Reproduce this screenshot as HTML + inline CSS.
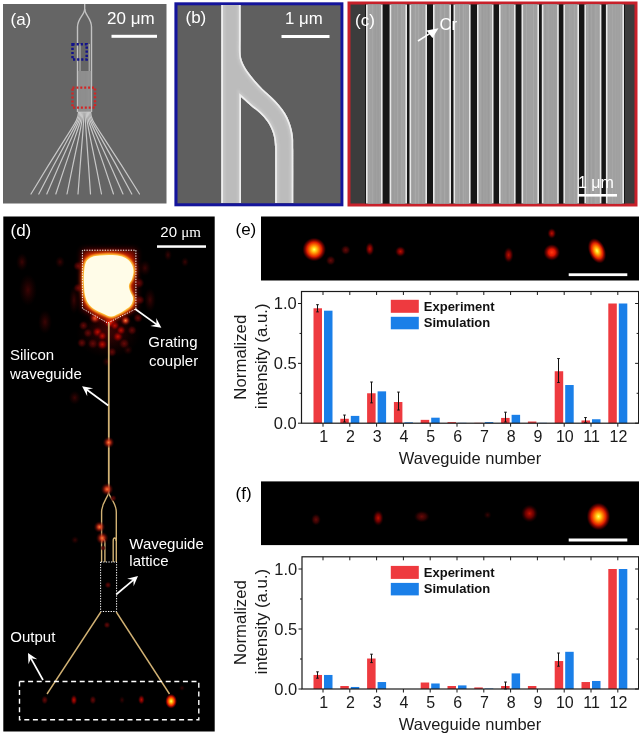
<!DOCTYPE html>
<html><head><meta charset="utf-8"><title>Figure</title>
<style>html,body{margin:0;padding:0;background:#fff;}svg{display:block;}</style>
</head><body>
<svg width="639" height="736" viewBox="0 0 639 736">
<defs>
 <radialGradient id="gHot" cx="50%" cy="50%" r="50%">
  <stop offset="0" stop-color="#ffff70"/>
  <stop offset="0.14" stop-color="#ffe020"/>
  <stop offset="0.38" stop-color="#ff7a00"/>
  <stop offset="0.62" stop-color="#dc1c00"/>
  <stop offset="0.85" stop-color="#780000" stop-opacity="0.6"/>
  <stop offset="1" stop-color="#300000" stop-opacity="0"/>
 </radialGradient>
 <radialGradient id="gRed" cx="50%" cy="50%" r="50%">
  <stop offset="0" stop-color="#ff3a10"/>
  <stop offset="0.4" stop-color="#e01400"/>
  <stop offset="0.75" stop-color="#800000" stop-opacity="0.6"/>
  <stop offset="1" stop-color="#300000" stop-opacity="0"/>
 </radialGradient>
 <radialGradient id="gOr" cx="50%" cy="50%" r="50%">
  <stop offset="0" stop-color="#f88040"/>
  <stop offset="0.3" stop-color="#d83818" stop-opacity="0.9"/>
  <stop offset="0.65" stop-color="#801008" stop-opacity="0.5"/>
  <stop offset="1" stop-color="#300000" stop-opacity="0"/>
 </radialGradient>
 <radialGradient id="gMid" cx="50%" cy="50%" r="50%">
  <stop offset="0" stop-color="#c01000"/>
  <stop offset="0.5" stop-color="#800000" stop-opacity="0.8"/>
  <stop offset="1" stop-color="#300000" stop-opacity="0"/>
 </radialGradient>
 <radialGradient id="gDim" cx="50%" cy="50%" r="50%">
  <stop offset="0" stop-color="#6a0a08"/>
  <stop offset="0.55" stop-color="#4a0404" stop-opacity="0.7"/>
  <stop offset="1" stop-color="#200000" stop-opacity="0"/>
 </radialGradient>
 <radialGradient id="gFaint" cx="50%" cy="50%" r="50%">
  <stop offset="0" stop-color="#3c0404"/>
  <stop offset="1" stop-color="#200000" stop-opacity="0"/>
 </radialGradient>
 <filter id="bl1" x="-50%" y="-50%" width="200%" height="200%"><feGaussianBlur stdDeviation="1"/></filter>
 <filter id="bl2" x="-50%" y="-50%" width="200%" height="200%"><feGaussianBlur stdDeviation="2"/></filter>
 <filter id="bl3" x="-50%" y="-50%" width="200%" height="200%"><feGaussianBlur stdDeviation="3"/></filter>
 <filter id="bl05" x="-50%" y="-50%" width="200%" height="200%"><feGaussianBlur stdDeviation="0.5"/></filter>
 <clipPath id="cpA"><rect x="3" y="4" width="163.5" height="199.5"/></clipPath>
 <clipPath id="cpB"><rect x="177.5" y="5" width="163" height="198"/></clipPath>
 <clipPath id="cpC"><rect x="350.5" y="4.5" width="284" height="199"/></clipPath>
 <clipPath id="cpD"><rect x="3.3" y="216.5" width="211.4" height="515"/></clipPath>
 <clipPath id="cpE"><rect x="261" y="216.5" width="378" height="64"/></clipPath>
 <clipPath id="cpF"><rect x="261" y="481.4" width="378" height="63.7"/></clipPath>
<clipPath id="cpWG"><path d="M221.3 -5 L240.6 -5 L240.6 40 C240.6 42 240.5 49 240.6 52 C240.7 55 240.7 55.93 241.2 58 C241.7 60.07 242.38 61.97 243.6 64.4 C244.82 66.83 246.6 69.88 248.5 72.6 C250.4 75.32 252.65 77.98 255 80.7 C257.35 83.42 259.85 86.18 262.6 88.9 C265.35 91.62 268.72 94.28 271.5 97 C274.28 99.72 277.02 102.48 279.3 105.2 C281.58 107.92 283.55 110.58 285.2 113.3 C286.85 116.02 288.12 118.78 289.2 121.5 C290.28 124.22 291.07 126.88 291.7 129.6 C292.33 132.32 292.73 134.4 293 137.8 C293.27 141.2 293.25 137.13 293.3 150 C293.35 162.87 293.3 204.17 293.3 215 L275.2 215 C275.2 204.17 275.25 161.52 275.2 150 C275.15 138.48 275.08 147.93 274.9 145.9 C274.72 143.87 274.65 140.52 274.1 137.8 C273.55 135.08 272.75 132.32 271.6 129.6 C270.45 126.88 269.15 124.22 267.2 121.5 C265.25 118.78 262.75 116.02 259.9 113.3 C257.05 110.58 253.25 107.92 250.1 105.2 C246.95 102.48 242.52 98.37 241 97 L241 215 L221.3 215 Z"/></clipPath></defs>
<rect width="639" height="736" fill="#fff"/><rect x="3" y="4" width="163.5" height="199.5" fill="#656565"/>
<g clip-path="url(#cpA)" fill="none" stroke="#c2c2c2" stroke-width="1.4">
<path d="M84.7 0 L84.7 9 C84.7 15 77.5 18 77.5 27 L77.5 112"/>
<path d="M84.7 9 C84.7 15 91.5 18 91.5 27 L91.5 112"/>
<path d="M80 44 L80 71 M89.2 44 L89.2 71" stroke="#b4b4b4" stroke-width="1.1"/>
</g>
<rect x="78" y="71" width="13" height="42" fill="#858585"/>
<line x1="78.6" y1="71" x2="78.6" y2="113" stroke="#9c9c9c" stroke-width="0.5"/>
<line x1="79.7" y1="71" x2="79.7" y2="113" stroke="#9c9c9c" stroke-width="0.5"/>
<line x1="80.8" y1="71" x2="80.8" y2="113" stroke="#9c9c9c" stroke-width="0.5"/>
<line x1="81.9" y1="71" x2="81.9" y2="113" stroke="#9c9c9c" stroke-width="0.5"/>
<line x1="83" y1="71" x2="83" y2="113" stroke="#9c9c9c" stroke-width="0.5"/>
<line x1="84.1" y1="71" x2="84.1" y2="113" stroke="#9c9c9c" stroke-width="0.5"/>
<line x1="85.2" y1="71" x2="85.2" y2="113" stroke="#9c9c9c" stroke-width="0.5"/>
<line x1="86.3" y1="71" x2="86.3" y2="113" stroke="#9c9c9c" stroke-width="0.5"/>
<line x1="87.4" y1="71" x2="87.4" y2="113" stroke="#9c9c9c" stroke-width="0.5"/>
<line x1="88.5" y1="71" x2="88.5" y2="113" stroke="#9c9c9c" stroke-width="0.5"/>
<line x1="89.6" y1="71" x2="89.6" y2="113" stroke="#9c9c9c" stroke-width="0.5"/>
<line x1="90.7" y1="71" x2="90.7" y2="113" stroke="#9c9c9c" stroke-width="0.5"/>
<g fill="none" stroke="#c8c8c8" stroke-width="1.2" stroke-linecap="round">
<path d="M78.5 112 C78.5 122 72.8 124 31 194"/>
<path d="M79.6 112 C79.6 122 74.7 124 38.8 194"/>
<path d="M80.7 112 C80.7 122 76.63 124 46.8 194"/>
<path d="M81.8 112 C81.8 122 78.68 124 55.8 194"/>
<path d="M82.9 112 C82.9 122 80.99 124 67 194"/>
<path d="M84 112 C84 122 83.28 124 78 194"/>
<path d="M85.1 112 C85.1 122 85.75 124 90.5 194"/>
<path d="M86.2 112 C86.2 122 88.04 124 101.5 194"/>
<path d="M87.3 112 C87.3 122 90.44 124 113.5 194"/>
<path d="M88.4 112 C88.4 122 92.55 124 123 194"/>
<path d="M89.5 112 C89.5 122 94.58 124 131.8 194"/>
<path d="M90.6 112 C90.6 122 96.47 124 139.5 194"/>
</g>
<rect x="72.5" y="44.3" width="14.2" height="15.3" fill="none" stroke="#12128c" stroke-width="2.5" stroke-dasharray="2.2 1.9"/>
<rect x="72.5" y="87.6" width="22.5" height="20" fill="none" stroke="#d42424" stroke-width="2.4" stroke-dasharray="2 1.9"/>
<text x="10.5" y="24.5" font-family='"Liberation Sans", Arial, sans-serif' font-size="17" fill="#fff">(a)</text>
<text x="107" y="24.2" font-family='"Liberation Sans", Arial, sans-serif' font-size="17" fill="#fff">20 μm</text>
<rect x="111.5" y="34.8" width="45.5" height="3" fill="#fff"/>
<rect x="174.4" y="2.3" width="169" height="204" fill="#14149c"/>
<rect x="177.5" y="5.3" width="163" height="198" fill="#5f5f5f"/>
<g clip-path="url(#cpB)">
<g clip-path="url(#cpWG)"><path d="M221.3 -5 L240.6 -5 L240.6 40 C240.6 42 240.5 49 240.6 52 C240.7 55 240.7 55.93 241.2 58 C241.7 60.07 242.38 61.97 243.6 64.4 C244.82 66.83 246.6 69.88 248.5 72.6 C250.4 75.32 252.65 77.98 255 80.7 C257.35 83.42 259.85 86.18 262.6 88.9 C265.35 91.62 268.72 94.28 271.5 97 C274.28 99.72 277.02 102.48 279.3 105.2 C281.58 107.92 283.55 110.58 285.2 113.3 C286.85 116.02 288.12 118.78 289.2 121.5 C290.28 124.22 291.07 126.88 291.7 129.6 C292.33 132.32 292.73 134.4 293 137.8 C293.27 141.2 293.25 137.13 293.3 150 C293.35 162.87 293.3 204.17 293.3 215 L275.2 215 C275.2 204.17 275.25 161.52 275.2 150 C275.15 138.48 275.08 147.93 274.9 145.9 C274.72 143.87 274.65 140.52 274.1 137.8 C273.55 135.08 272.75 132.32 271.6 129.6 C270.45 126.88 269.15 124.22 267.2 121.5 C265.25 118.78 262.75 116.02 259.9 113.3 C257.05 110.58 253.25 107.92 250.1 105.2 C246.95 102.48 242.52 98.37 241 97 L241 215 L221.3 215 Z" fill="#bcbcbc"/>
<path d="M221.3 -5 L240.6 -5 L240.6 40 C240.6 42 240.5 49 240.6 52 C240.7 55 240.7 55.93 241.2 58 C241.7 60.07 242.38 61.97 243.6 64.4 C244.82 66.83 246.6 69.88 248.5 72.6 C250.4 75.32 252.65 77.98 255 80.7 C257.35 83.42 259.85 86.18 262.6 88.9 C265.35 91.62 268.72 94.28 271.5 97 C274.28 99.72 277.02 102.48 279.3 105.2 C281.58 107.92 283.55 110.58 285.2 113.3 C286.85 116.02 288.12 118.78 289.2 121.5 C290.28 124.22 291.07 126.88 291.7 129.6 C292.33 132.32 292.73 134.4 293 137.8 C293.27 141.2 293.25 137.13 293.3 150 C293.35 162.87 293.3 204.17 293.3 215 L275.2 215 C275.2 204.17 275.25 161.52 275.2 150 C275.15 138.48 275.08 147.93 274.9 145.9 C274.72 143.87 274.65 140.52 274.1 137.8 C273.55 135.08 272.75 132.32 271.6 129.6 C270.45 126.88 269.15 124.22 267.2 121.5 C265.25 118.78 262.75 116.02 259.9 113.3 C257.05 110.58 253.25 107.92 250.1 105.2 C246.95 102.48 242.52 98.37 241 97 L241 215 L221.3 215 Z" fill="none" stroke="#c8c8c8" stroke-width="7" filter="url(#bl1)"/>
<path d="M221.3 -5 L240.6 -5 L240.6 40 C240.6 42 240.5 49 240.6 52 C240.7 55 240.7 55.93 241.2 58 C241.7 60.07 242.38 61.97 243.6 64.4 C244.82 66.83 246.6 69.88 248.5 72.6 C250.4 75.32 252.65 77.98 255 80.7 C257.35 83.42 259.85 86.18 262.6 88.9 C265.35 91.62 268.72 94.28 271.5 97 C274.28 99.72 277.02 102.48 279.3 105.2 C281.58 107.92 283.55 110.58 285.2 113.3 C286.85 116.02 288.12 118.78 289.2 121.5 C290.28 124.22 291.07 126.88 291.7 129.6 C292.33 132.32 292.73 134.4 293 137.8 C293.27 141.2 293.25 137.13 293.3 150 C293.35 162.87 293.3 204.17 293.3 215 L275.2 215 C275.2 204.17 275.25 161.52 275.2 150 C275.15 138.48 275.08 147.93 274.9 145.9 C274.72 143.87 274.65 140.52 274.1 137.8 C273.55 135.08 272.75 132.32 271.6 129.6 C270.45 126.88 269.15 124.22 267.2 121.5 C265.25 118.78 262.75 116.02 259.9 113.3 C257.05 110.58 253.25 107.92 250.1 105.2 C246.95 102.48 242.52 98.37 241 97 L241 215 L221.3 215 Z" fill="none" stroke="#eeeeee" stroke-width="3.4" filter="url(#bl05)"/></g>
</g>
<text x="185.5" y="23" font-family='"Liberation Sans", Arial, sans-serif' font-size="17" fill="#fff">(b)</text>
<text x="285" y="24" font-family='"Liberation Sans", Arial, sans-serif' font-size="16.8" fill="#fff">1 μm</text>
<rect x="281.5" y="35" width="48" height="3" fill="#fff"/>
<rect x="347.5" y="1.5" width="290" height="205" fill="#c8202a"/>
<rect x="350.5" y="4.5" width="284" height="199" fill="#3c3c3c"/>
<rect x="365" y="4.5" width="260" height="199" fill="#161616"/>
<rect x="366" y="4.5" width="16.6" height="199" fill="#e8e8e8"/>
<rect x="367.6" y="4.5" width="13.4" height="199" fill="#a0a0a0"/>
<rect x="369" y="4.5" width="0.8" height="199" fill="#a8a8a8" opacity="0.6"/>
<rect x="372.11" y="4.5" width="0.8" height="199" fill="#aeaeae" opacity="0.6"/>
<rect x="374.72" y="4.5" width="0.8" height="199" fill="#949494" opacity="0.6"/>
<rect x="377.61" y="4.5" width="0.8" height="199" fill="#949494" opacity="0.6"/>
<rect x="389.6" y="4.5" width="17.4" height="199" fill="#e8e8e8"/>
<rect x="391.2" y="4.5" width="14.2" height="199" fill="#a0a0a0"/>
<rect x="392.6" y="4.5" width="0.8" height="199" fill="#949494" opacity="0.6"/>
<rect x="395.65" y="4.5" width="0.8" height="199" fill="#989898" opacity="0.6"/>
<rect x="397.21" y="4.5" width="0.8" height="199" fill="#aeaeae" opacity="0.6"/>
<rect x="399.42" y="4.5" width="0.8" height="199" fill="#989898" opacity="0.6"/>
<rect x="401.08" y="4.5" width="0.8" height="199" fill="#aeaeae" opacity="0.6"/>
<rect x="402.68" y="4.5" width="0.8" height="199" fill="#b2b2b2" opacity="0.6"/>
<rect x="409.5" y="4.5" width="17.5" height="199" fill="#e8e8e8"/>
<rect x="411.1" y="4.5" width="14.3" height="199" fill="#a0a0a0"/>
<rect x="412.5" y="4.5" width="0.8" height="199" fill="#989898" opacity="0.6"/>
<rect x="415.07" y="4.5" width="0.8" height="199" fill="#b2b2b2" opacity="0.6"/>
<rect x="418.18" y="4.5" width="0.8" height="199" fill="#b2b2b2" opacity="0.6"/>
<rect x="420.68" y="4.5" width="0.8" height="199" fill="#949494" opacity="0.6"/>
<rect x="423.84" y="4.5" width="0.8" height="199" fill="#949494" opacity="0.6"/>
<rect x="433" y="4.5" width="18" height="199" fill="#e8e8e8"/>
<rect x="434.6" y="4.5" width="14.8" height="199" fill="#a0a0a0"/>
<rect x="436" y="4.5" width="0.8" height="199" fill="#989898" opacity="0.6"/>
<rect x="437.99" y="4.5" width="0.8" height="199" fill="#989898" opacity="0.6"/>
<rect x="440.41" y="4.5" width="0.8" height="199" fill="#b2b2b2" opacity="0.6"/>
<rect x="442.44" y="4.5" width="0.8" height="199" fill="#9c9c9c" opacity="0.6"/>
<rect x="444.24" y="4.5" width="0.8" height="199" fill="#b2b2b2" opacity="0.6"/>
<rect x="446.71" y="4.5" width="0.8" height="199" fill="#989898" opacity="0.6"/>
<rect x="453.5" y="4.5" width="17.1" height="199" fill="#e8e8e8"/>
<rect x="455.1" y="4.5" width="13.9" height="199" fill="#a0a0a0"/>
<rect x="456.5" y="4.5" width="0.8" height="199" fill="#b2b2b2" opacity="0.6"/>
<rect x="459.21" y="4.5" width="0.8" height="199" fill="#b2b2b2" opacity="0.6"/>
<rect x="460.81" y="4.5" width="0.8" height="199" fill="#989898" opacity="0.6"/>
<rect x="463.16" y="4.5" width="0.8" height="199" fill="#b2b2b2" opacity="0.6"/>
<rect x="465.38" y="4.5" width="0.8" height="199" fill="#a8a8a8" opacity="0.6"/>
<rect x="477" y="4.5" width="16.5" height="199" fill="#e8e8e8"/>
<rect x="478.6" y="4.5" width="13.3" height="199" fill="#a0a0a0"/>
<rect x="480" y="4.5" width="0.8" height="199" fill="#aeaeae" opacity="0.6"/>
<rect x="482.11" y="4.5" width="0.8" height="199" fill="#989898" opacity="0.6"/>
<rect x="484.97" y="4.5" width="0.8" height="199" fill="#9c9c9c" opacity="0.6"/>
<rect x="487.79" y="4.5" width="0.8" height="199" fill="#949494" opacity="0.6"/>
<rect x="490.27" y="4.5" width="0.8" height="199" fill="#b2b2b2" opacity="0.6"/>
<rect x="499" y="4.5" width="16.6" height="199" fill="#e8e8e8"/>
<rect x="500.6" y="4.5" width="13.4" height="199" fill="#a0a0a0"/>
<rect x="502" y="4.5" width="0.8" height="199" fill="#a8a8a8" opacity="0.6"/>
<rect x="504.74" y="4.5" width="0.8" height="199" fill="#a8a8a8" opacity="0.6"/>
<rect x="507.28" y="4.5" width="0.8" height="199" fill="#949494" opacity="0.6"/>
<rect x="508.98" y="4.5" width="0.8" height="199" fill="#aeaeae" opacity="0.6"/>
<rect x="510.76" y="4.5" width="0.8" height="199" fill="#a8a8a8" opacity="0.6"/>
<rect x="512.51" y="4.5" width="0.8" height="199" fill="#aeaeae" opacity="0.6"/>
<rect x="521.5" y="4.5" width="17.5" height="199" fill="#e8e8e8"/>
<rect x="523.1" y="4.5" width="14.3" height="199" fill="#a0a0a0"/>
<rect x="524.5" y="4.5" width="0.8" height="199" fill="#9c9c9c" opacity="0.6"/>
<rect x="526.13" y="4.5" width="0.8" height="199" fill="#b2b2b2" opacity="0.6"/>
<rect x="528.61" y="4.5" width="0.8" height="199" fill="#a8a8a8" opacity="0.6"/>
<rect x="530.68" y="4.5" width="0.8" height="199" fill="#a8a8a8" opacity="0.6"/>
<rect x="533.19" y="4.5" width="0.8" height="199" fill="#b2b2b2" opacity="0.6"/>
<rect x="541.8" y="4.5" width="17" height="199" fill="#e8e8e8"/>
<rect x="543.4" y="4.5" width="13.8" height="199" fill="#a0a0a0"/>
<rect x="544.8" y="4.5" width="0.8" height="199" fill="#949494" opacity="0.6"/>
<rect x="547.73" y="4.5" width="0.8" height="199" fill="#a8a8a8" opacity="0.6"/>
<rect x="550.03" y="4.5" width="0.8" height="199" fill="#9c9c9c" opacity="0.6"/>
<rect x="551.64" y="4.5" width="0.8" height="199" fill="#9c9c9c" opacity="0.6"/>
<rect x="554.34" y="4.5" width="0.8" height="199" fill="#9c9c9c" opacity="0.6"/>
<rect x="563.4" y="4.5" width="15.6" height="199" fill="#e8e8e8"/>
<rect x="565" y="4.5" width="12.4" height="199" fill="#a0a0a0"/>
<rect x="566.4" y="4.5" width="0.8" height="199" fill="#9c9c9c" opacity="0.6"/>
<rect x="569.3" y="4.5" width="0.8" height="199" fill="#a8a8a8" opacity="0.6"/>
<rect x="572.02" y="4.5" width="0.8" height="199" fill="#9c9c9c" opacity="0.6"/>
<rect x="574.11" y="4.5" width="0.8" height="199" fill="#aeaeae" opacity="0.6"/>
<rect x="584.4" y="4.5" width="17" height="199" fill="#e8e8e8"/>
<rect x="586" y="4.5" width="13.8" height="199" fill="#a0a0a0"/>
<rect x="587.4" y="4.5" width="0.8" height="199" fill="#b2b2b2" opacity="0.6"/>
<rect x="589.1" y="4.5" width="0.8" height="199" fill="#949494" opacity="0.6"/>
<rect x="590.97" y="4.5" width="0.8" height="199" fill="#a8a8a8" opacity="0.6"/>
<rect x="592.69" y="4.5" width="0.8" height="199" fill="#989898" opacity="0.6"/>
<rect x="594.87" y="4.5" width="0.8" height="199" fill="#aeaeae" opacity="0.6"/>
<rect x="596.5" y="4.5" width="0.8" height="199" fill="#aeaeae" opacity="0.6"/>
<rect x="605.9" y="4.5" width="18.1" height="199" fill="#e8e8e8"/>
<rect x="607.5" y="4.5" width="14.9" height="199" fill="#a0a0a0"/>
<rect x="608.9" y="4.5" width="0.8" height="199" fill="#a8a8a8" opacity="0.6"/>
<rect x="611.9" y="4.5" width="0.8" height="199" fill="#aeaeae" opacity="0.6"/>
<rect x="614.87" y="4.5" width="0.8" height="199" fill="#a8a8a8" opacity="0.6"/>
<rect x="617.57" y="4.5" width="0.8" height="199" fill="#a8a8a8" opacity="0.6"/>
<rect x="620.23" y="4.5" width="0.8" height="199" fill="#aeaeae" opacity="0.6"/>
<text x="355" y="25.6" font-family='"Liberation Sans", Arial, sans-serif' font-size="17" fill="#fff">(c)</text>
<text x="439.5" y="29.5" font-family='"Liberation Sans", Arial, sans-serif' font-size="16.8" fill="#fff">Cr</text>
<line x1="418" y1="41" x2="430" y2="33.3" stroke="#fff" stroke-width="1.6"/>
<polygon points="438.5,28.2 426.5,30.5 432.5,38" fill="#fff"/>
<text x="578" y="188" font-family='"Liberation Sans", Arial, sans-serif' font-size="16" fill="#fff">1 μm</text>
<rect x="578" y="194" width="39" height="2.6" fill="#fff"/>
<rect x="3.3" y="216.5" width="211.4" height="515" fill="#000"/>
<g clip-path="url(#cpD)">
<ellipse cx="28" cy="290" rx="9" ry="16" fill="url(#gFaint)"/>
<ellipse cx="45" cy="322" rx="7" ry="12" fill="url(#gFaint)"/>
<ellipse cx="22" cy="262" rx="6" ry="9" fill="url(#gFaint)"/>
<ellipse cx="74.7" cy="397.7" rx="6" ry="7" fill="url(#gFaint)"/>
<ellipse cx="150" cy="300" rx="6" ry="12" fill="url(#gFaint)"/>
<ellipse cx="145" cy="268" rx="6" ry="8" fill="url(#gFaint)"/>
<ellipse cx="168" cy="255" rx="4" ry="6" fill="url(#gFaint)"/>
<ellipse cx="75" cy="540" rx="4" ry="4" fill="url(#gFaint)"/>
<ellipse cx="74" cy="300" rx="5" ry="14" fill="url(#gFaint)"/>
<ellipse cx="60" cy="262" rx="5" ry="6" fill="url(#gFaint)"/>
<ellipse cx="185" cy="262" rx="4" ry="5" fill="url(#gFaint)"/>
<ellipse cx="108" cy="334" rx="32" ry="24" fill="url(#gFaint)"/>
<ellipse cx="108" cy="330" rx="22" ry="14" fill="url(#gFaint)"/>
<ellipse cx="95" cy="318" rx="6.25" ry="6.25" fill="url(#gOr)"/>
<ellipse cx="125.5" cy="320.5" rx="5.62" ry="5.62" fill="url(#gOr)"/>
<ellipse cx="110" cy="322" rx="6.25" ry="6.25" fill="url(#gRed)"/>
<ellipse cx="97.6" cy="332" rx="5.62" ry="5.62" fill="url(#gMid)"/>
<ellipse cx="102.3" cy="336" rx="5" ry="5" fill="url(#gMid)"/>
<ellipse cx="92.9" cy="343.6" rx="5.62" ry="5.62" fill="url(#gDim)"/>
<ellipse cx="102.3" cy="344.4" rx="5.62" ry="5.62" fill="url(#gMid)"/>
<ellipse cx="117.9" cy="336.6" rx="5.62" ry="5.62" fill="url(#gMid)"/>
<ellipse cx="121" cy="330.3" rx="5" ry="5" fill="url(#gMid)"/>
<ellipse cx="114.8" cy="325.6" rx="5" ry="5" fill="url(#gMid)"/>
<ellipse cx="124.2" cy="343.6" rx="5.62" ry="5.62" fill="url(#gDim)"/>
<ellipse cx="83.5" cy="325.6" rx="5" ry="5" fill="url(#gDim)"/>
<ellipse cx="81.9" cy="342.9" rx="5" ry="5" fill="url(#gDim)"/>
<ellipse cx="132" cy="330.3" rx="5" ry="5" fill="url(#gDim)"/>
<ellipse cx="107" cy="361.6" rx="5" ry="5" fill="url(#gFaint)"/>
<ellipse cx="88" cy="333" rx="5" ry="5" fill="url(#gDim)"/>
<ellipse cx="128" cy="350" rx="5" ry="5" fill="url(#gFaint)"/>
<ellipse cx="112" cy="352" rx="5" ry="5" fill="url(#gDim)"/>
<ellipse cx="140" cy="300" rx="5" ry="5" fill="url(#gDim)"/>
<ellipse cx="139" cy="283" rx="5.62" ry="5.62" fill="url(#gDim)"/>
<ellipse cx="78" cy="288" rx="5" ry="5" fill="url(#gDim)"/>
<ellipse cx="78" cy="266" rx="5" ry="5" fill="url(#gDim)"/>
<ellipse cx="138" cy="318" rx="5" ry="5" fill="url(#gDim)"/>
<path d="M82.4 308.5 L82.4 250.2 L135.9 250.2 L135.9 308.9 L107.7 323 Z" fill="#a81000" opacity="0.9" filter="url(#bl3)"/>
<path d="M86 262 C87.33 259.33 89.67 258.08 92 257 C94.33 255.92 97 255.83 100 255.5 C103 255.17 106.67 254.92 110 255 C113.33 255.08 117.17 255.33 120 256 C122.83 256.67 125.08 257.67 127 259 C128.92 260.33 130.42 262 131.5 264 C132.58 266 133.42 268.5 133.5 271 C133.58 273.5 132.75 276.67 132 279 C131.25 281.33 129.33 283 129 285 C128.67 287 129.33 288.83 130 291 C130.67 293.17 132.83 295.67 133 298 C133.17 300.33 132.33 303 131 305 C129.67 307 127.17 308.5 125 310 C122.83 311.5 120.33 312.92 118 314 C115.67 315.08 113.5 316.58 111 316.5 C108.5 316.42 105.83 314.75 103 313.5 C100.17 312.25 96.5 310.75 94 309 C91.5 307.25 89.5 305.33 88 303 C86.5 300.67 85.67 298 85 295 C84.33 292 84.17 288.67 84 285 C83.83 281.33 83.67 276.83 84 273 C84.33 269.17 84.67 264.67 86 262 Z" fill="#f04000" transform="translate(108.5 286) scale(1.1) translate(-108.5 -286)" filter="url(#bl2)"/>
<path d="M86 262 C87.33 259.33 89.67 258.08 92 257 C94.33 255.92 97 255.83 100 255.5 C103 255.17 106.67 254.92 110 255 C113.33 255.08 117.17 255.33 120 256 C122.83 256.67 125.08 257.67 127 259 C128.92 260.33 130.42 262 131.5 264 C132.58 266 133.42 268.5 133.5 271 C133.58 273.5 132.75 276.67 132 279 C131.25 281.33 129.33 283 129 285 C128.67 287 129.33 288.83 130 291 C130.67 293.17 132.83 295.67 133 298 C133.17 300.33 132.33 303 131 305 C129.67 307 127.17 308.5 125 310 C122.83 311.5 120.33 312.92 118 314 C115.67 315.08 113.5 316.58 111 316.5 C108.5 316.42 105.83 314.75 103 313.5 C100.17 312.25 96.5 310.75 94 309 C91.5 307.25 89.5 305.33 88 303 C86.5 300.67 85.67 298 85 295 C84.33 292 84.17 288.67 84 285 C83.83 281.33 83.67 276.83 84 273 C84.33 269.17 84.67 264.67 86 262 Z" fill="#ffa020" transform="translate(108.5 286) scale(1.05) translate(-108.5 -286)" filter="url(#bl1)"/>
<path d="M86 262 C87.33 259.33 89.67 258.08 92 257 C94.33 255.92 97 255.83 100 255.5 C103 255.17 106.67 254.92 110 255 C113.33 255.08 117.17 255.33 120 256 C122.83 256.67 125.08 257.67 127 259 C128.92 260.33 130.42 262 131.5 264 C132.58 266 133.42 268.5 133.5 271 C133.58 273.5 132.75 276.67 132 279 C131.25 281.33 129.33 283 129 285 C128.67 287 129.33 288.83 130 291 C130.67 293.17 132.83 295.67 133 298 C133.17 300.33 132.33 303 131 305 C129.67 307 127.17 308.5 125 310 C122.83 311.5 120.33 312.92 118 314 C115.67 315.08 113.5 316.58 111 316.5 C108.5 316.42 105.83 314.75 103 313.5 C100.17 312.25 96.5 310.75 94 309 C91.5 307.25 89.5 305.33 88 303 C86.5 300.67 85.67 298 85 295 C84.33 292 84.17 288.67 84 285 C83.83 281.33 83.67 276.83 84 273 C84.33 269.17 84.67 264.67 86 262 Z" fill="#ffe050" transform="translate(108.5 286) scale(1.02) translate(-108.5 -286)" filter="url(#bl1)"/>
<path d="M86 262 C87.33 259.33 89.67 258.08 92 257 C94.33 255.92 97 255.83 100 255.5 C103 255.17 106.67 254.92 110 255 C113.33 255.08 117.17 255.33 120 256 C122.83 256.67 125.08 257.67 127 259 C128.92 260.33 130.42 262 131.5 264 C132.58 266 133.42 268.5 133.5 271 C133.58 273.5 132.75 276.67 132 279 C131.25 281.33 129.33 283 129 285 C128.67 287 129.33 288.83 130 291 C130.67 293.17 132.83 295.67 133 298 C133.17 300.33 132.33 303 131 305 C129.67 307 127.17 308.5 125 310 C122.83 311.5 120.33 312.92 118 314 C115.67 315.08 113.5 316.58 111 316.5 C108.5 316.42 105.83 314.75 103 313.5 C100.17 312.25 96.5 310.75 94 309 C91.5 307.25 89.5 305.33 88 303 C86.5 300.67 85.67 298 85 295 C84.33 292 84.17 288.67 84 285 C83.83 281.33 83.67 276.83 84 273 C84.33 269.17 84.67 264.67 86 262 Z" fill="#fffce8" filter="url(#bl05)"/>
<path d="M82.4 308.5 L82.4 250.2 L135.9 250.2 L135.9 308.9 L107.7 323 Z" fill="none" stroke="#fff" stroke-width="1" stroke-dasharray="1.3 1.3"/>
<line x1="108.8" y1="323" x2="108.8" y2="492" stroke="#d2b274" stroke-width="1.8"/>
<g fill="none" stroke="#d2b274" stroke-width="1.4">
<path d="M108.6 492 C108.6 497 101.6 502 101.6 512 L101.6 562"/>
<path d="M108.6 492 C108.6 497 116.3 502 116.3 512 L116.3 562"/>
<path d="M104.9 562 L104.9 542.5 C104.9 540.5 104 539.5 103.2 539.5 C102.4 539.5 101.6 540.5 101.6 542.5"/>
<path d="M113.2 562 L113.2 541 C113.2 539 114 538 114.7 538 C115.5 538 116.2 539 116.2 541"/>
<path d="M100.8 612 L47 694"/>
<path d="M116.3 612 L169.5 694"/>
</g>
<rect x="100.6" y="562" width="16" height="49.5" fill="none" stroke="#fff" stroke-width="1" stroke-dasharray="1.3 1.3"/>
<ellipse cx="107.1" cy="489.2" rx="6.5" ry="6.5" fill="url(#gOr)"/>
<ellipse cx="99.5" cy="527" rx="6" ry="6" fill="url(#gOr)"/>
<ellipse cx="102.2" cy="538.1" rx="6.5" ry="6.5" fill="url(#gOr)"/>
<ellipse cx="108.6" cy="442.5" rx="6" ry="6" fill="url(#gOr)"/>
<ellipse cx="113.2" cy="498.3" rx="3.5" ry="3.5" fill="url(#gDim)"/>
<ellipse cx="108" cy="585" rx="3.5" ry="3.5" fill="url(#gDim)"/>
<ellipse cx="107" cy="625" rx="3.5" ry="3.5" fill="url(#gDim)"/>
<ellipse cx="103" cy="548" rx="3" ry="3" fill="url(#gDim)"/>
<ellipse cx="44.7" cy="700" rx="3.5" ry="4.5" fill="url(#gDim)"/>
<ellipse cx="73.9" cy="700" rx="3.5" ry="5.5" fill="url(#gMid)"/>
<ellipse cx="92.9" cy="700" rx="3.5" ry="4.5" fill="url(#gDim)"/>
<ellipse cx="122" cy="700" rx="3" ry="4" fill="url(#gFaint)"/>
<ellipse cx="141.4" cy="699.7" rx="3.5" ry="5" fill="url(#gMid)"/>
<ellipse cx="171.1" cy="701.2" rx="6" ry="7.5" fill="url(#gHot)"/>
<ellipse cx="182" cy="688" rx="3" ry="3" fill="url(#gFaint)"/>
<rect x="19.5" y="681.5" width="179.3" height="38.2" fill="none" stroke="#fff" stroke-width="1.4" stroke-dasharray="5 3.6"/>
</g>
<text x="10.5" y="236" font-family='"Liberation Sans", Arial, sans-serif' font-size="17" fill="#fff">(d)</text>
<text x="160.3" y="236.6" font-family='"Liberation Sans", Arial, sans-serif' font-size="15" fill="#fff">20 <tspan font-family='"Liberation Serif", "Times New Roman", serif'>μm</tspan></text>
<rect x="157" y="245.3" width="49" height="2.5" fill="#fff"/>
<text x="148.3" y="347.3" font-family='"Liberation Sans", Arial, sans-serif' font-size="15" fill="#fff">Grating</text>
<text x="149" y="365.8" font-family='"Liberation Sans", Arial, sans-serif' font-size="15" fill="#fff">coupler</text>
<text x="10" y="359.5" font-family='"Liberation Sans", Arial, sans-serif' font-size="15" fill="#fff">Silicon</text>
<text x="10" y="378.5" font-family='"Liberation Sans", Arial, sans-serif' font-size="15" fill="#fff">waveguide</text>
<text x="129.3" y="549" font-family='"Liberation Sans", Arial, sans-serif' font-size="15" fill="#fff">Waveguide</text>
<text x="129.3" y="565.5" font-family='"Liberation Sans", Arial, sans-serif' font-size="15" fill="#fff">lattice</text>
<text x="10.3" y="642" font-family='"Liberation Sans", Arial, sans-serif' font-size="15" fill="#fff">Output</text>
<line x1="135.2" y1="309" x2="156.93" y2="324.59" stroke="#fff" stroke-width="1.7"/><polygon points="161.4,327.8 150.36,326.03 156.53,324.3 156.19,317.91" fill="#fff"/>
<line x1="108.3" y1="405.5" x2="86.54" y2="389.55" stroke="#fff" stroke-width="1.7"/><polygon points="82.1,386.3 93.12,388.18 86.94,389.85 87.21,396.24" fill="#fff"/>
<line x1="116.2" y1="594.5" x2="133.81" y2="579.56" stroke="#fff" stroke-width="1.7"/><polygon points="138,576 133.61,586.28 133.43,579.88 127.14,578.66" fill="#fff"/>
<line x1="43" y1="680" x2="30.67" y2="657.81" stroke="#fff" stroke-width="1.7"/><polygon points="28,653 37.23,659.31 30.91,658.24 28.49,664.17" fill="#fff"/>
<text x="235.5" y="234.9" font-family='"Liberation Sans", Arial, sans-serif' font-size="17" fill="#000">(e)</text>
<rect x="261" y="216.5" width="378" height="64" fill="#000"/>
<g clip-path="url(#cpE)">
<ellipse cx="314.2" cy="249.5" rx="12" ry="12" fill="url(#gHot)"/>
<ellipse cx="330.7" cy="260.5" rx="5" ry="5" fill="url(#gDim)"/>
<ellipse cx="345.7" cy="250" rx="5" ry="5" fill="url(#gDim)"/>
<ellipse cx="369.8" cy="249" rx="4.5" ry="7" fill="url(#gMid)"/>
<ellipse cx="400.4" cy="251.5" rx="5.5" ry="5.5" fill="url(#gMid)"/>
<ellipse cx="508.6" cy="255" rx="5" ry="8" fill="url(#gMid)"/>
<ellipse cx="551.8" cy="233.4" rx="4.5" ry="5.5" fill="url(#gMid)"/>
<ellipse cx="551.8" cy="252.4" rx="8.5" ry="8.5" fill="url(#gRed)"/>
<ellipse cx="597" cy="250.8" rx="8.5" ry="13.5" fill="url(#gHot)" transform="rotate(-22 597 250.8)"/>
</g>
<rect x="568.7" y="273.3" width="58.6" height="2.8" fill="#fff"/>
<text x="235.6" y="498.6" font-family='"Liberation Sans", Arial, sans-serif' font-size="17" fill="#000">(f)</text>
<rect x="261" y="481.4" width="378" height="63.7" fill="#000"/>
<g clip-path="url(#cpF)">
<ellipse cx="316" cy="519.6" rx="5" ry="6" fill="url(#gDim)"/>
<ellipse cx="378.2" cy="518" rx="5.5" ry="8" fill="url(#gMid)"/>
<ellipse cx="421.8" cy="516.6" rx="8" ry="6" fill="url(#gDim)"/>
<ellipse cx="487.6" cy="515" rx="4" ry="4" fill="url(#gFaint)"/>
<ellipse cx="529.5" cy="513.5" rx="8.5" ry="9" fill="url(#gMid)"/>
<ellipse cx="598.5" cy="516.5" rx="12" ry="14" fill="url(#gHot)"/>
</g>
<rect x="568.7" y="538.5" width="58.6" height="3" fill="#fff"/>
<rect x="313.5" y="308.29" width="8.5" height="114.91" fill="#ee3a3f"/>
<rect x="324" y="310.68" width="8.5" height="112.52" fill="#1a7fe8"/>
<path d="M317.5 304.7 L317.5 311.88 M316.2 304.7 L318.8 304.7 M316.2 311.88 L318.8 311.88" stroke="#111" stroke-width="1" fill="none"/>
<rect x="340.3" y="418.77" width="8.5" height="4.43" fill="#ee3a3f"/>
<rect x="350.8" y="415.9" width="8.5" height="7.3" fill="#1a7fe8"/>
<path d="M344.5 415.06 L344.5 422 M343.2 415.06 L345.8 415.06 M343.2 422 L345.8 422" stroke="#111" stroke-width="1" fill="none"/>
<rect x="367.1" y="393.27" width="8.5" height="29.92" fill="#ee3a3f"/>
<rect x="377.6" y="391.36" width="8.5" height="31.84" fill="#1a7fe8"/>
<path d="M371.5 382.02 L371.5 402.85 M370.2 382.02 L372.8 382.02 M370.2 402.85 L372.8 402.85" stroke="#111" stroke-width="1" fill="none"/>
<rect x="393.9" y="402.01" width="8.5" height="21.19" fill="#ee3a3f"/>
<rect x="404.4" y="422.36" width="8.5" height="0.84" fill="#1a7fe8"/>
<path d="M398.5 392.08 L398.5 410.03 M397.2 392.08 L399.8 392.08 M397.2 410.03 L399.8 410.03" stroke="#111" stroke-width="1" fill="none"/>
<rect x="420.7" y="419.85" width="8.5" height="3.35" fill="#ee3a3f"/>
<rect x="431.2" y="417.69" width="8.5" height="5.51" fill="#1a7fe8"/>
<rect x="447.5" y="422.12" width="8.5" height="1.08" fill="#ee3a3f"/>
<rect x="458" y="422.84" width="8.5" height="0.36" fill="#1a7fe8"/>
<rect x="474.3" y="422.84" width="8.5" height="0.36" fill="#ee3a3f"/>
<rect x="484.8" y="422.12" width="8.5" height="1.08" fill="#1a7fe8"/>
<rect x="501.1" y="417.93" width="8.5" height="5.27" fill="#ee3a3f"/>
<rect x="511.6" y="414.82" width="8.5" height="8.38" fill="#1a7fe8"/>
<path d="M505.5 412.19 L505.5 422 M504.2 412.19 L506.8 412.19 M504.2 422 L506.8 422" stroke="#111" stroke-width="1" fill="none"/>
<rect x="527.9" y="421.52" width="8.5" height="1.68" fill="#ee3a3f"/>
<rect x="538.4" y="422.84" width="8.5" height="0.36" fill="#1a7fe8"/>
<rect x="554.7" y="371.25" width="8.5" height="51.95" fill="#ee3a3f"/>
<rect x="565.2" y="385.02" width="8.5" height="38.18" fill="#1a7fe8"/>
<path d="M558.5 358.56 L558.5 382.5 M557.2 358.56 L559.8 358.56 M557.2 382.5 L559.8 382.5" stroke="#111" stroke-width="1" fill="none"/>
<rect x="581.5" y="420.45" width="8.5" height="2.75" fill="#ee3a3f"/>
<rect x="592" y="419.25" width="8.5" height="3.95" fill="#1a7fe8"/>
<path d="M585.5 417.57 L585.5 422.6 M584.2 417.57 L586.8 417.57 M584.2 422.6 L586.8 422.6" stroke="#111" stroke-width="1" fill="none"/>
<rect x="608.3" y="303.5" width="8.5" height="119.7" fill="#ee3a3f"/>
<rect x="618.8" y="303.5" width="8.5" height="119.7" fill="#1a7fe8"/>
<rect x="301.5" y="291.5" width="337.1" height="131.7" fill="none" stroke="#1a1a1a" stroke-width="1.2"/>
<path d="M323 423.2 L323 426.7 M323 291.5 L323 295 M349.8 423.2 L349.8 426.7 M349.8 291.5 L349.8 295 M376.6 423.2 L376.6 426.7 M376.6 291.5 L376.6 295 M403.4 423.2 L403.4 426.7 M403.4 291.5 L403.4 295 M430.2 423.2 L430.2 426.7 M430.2 291.5 L430.2 295 M457 423.2 L457 426.7 M457 291.5 L457 295 M483.8 423.2 L483.8 426.7 M483.8 291.5 L483.8 295 M510.6 423.2 L510.6 426.7 M510.6 291.5 L510.6 295 M537.4 423.2 L537.4 426.7 M537.4 291.5 L537.4 295 M564.2 423.2 L564.2 426.7 M564.2 291.5 L564.2 295 M591 423.2 L591 426.7 M591 291.5 L591 295 M617.8 423.2 L617.8 426.7 M617.8 291.5 L617.8 295 M298 423.2 L301.5 423.2 M638.6 423.2 L635.1 423.2 M299.5 393.27 L301.5 393.27 M638.6 393.27 L636.6 393.27 M298 363.35 L301.5 363.35 M638.6 363.35 L635.1 363.35 M299.5 333.43 L301.5 333.43 M638.6 333.43 L636.6 333.43 M298 303.5 L301.5 303.5 M638.6 303.5 L635.1 303.5" stroke="#1a1a1a" stroke-width="1" fill="none"/>
<text x="296.7" y="429" font-family='"Liberation Sans", Arial, sans-serif' font-size="16.5" fill="#1a1a1a" text-anchor="end">0.0</text>
<text x="296.7" y="369.15" font-family='"Liberation Sans", Arial, sans-serif' font-size="16.5" fill="#1a1a1a" text-anchor="end">0.5</text>
<text x="296.7" y="309.3" font-family='"Liberation Sans", Arial, sans-serif' font-size="16.5" fill="#1a1a1a" text-anchor="end">1.0</text>
<text x="323.6" y="442.4" font-family='"Liberation Sans", Arial, sans-serif' font-size="16" fill="#1a1a1a" text-anchor="middle">1</text>
<text x="350.4" y="442.4" font-family='"Liberation Sans", Arial, sans-serif' font-size="16" fill="#1a1a1a" text-anchor="middle">2</text>
<text x="377.2" y="442.4" font-family='"Liberation Sans", Arial, sans-serif' font-size="16" fill="#1a1a1a" text-anchor="middle">3</text>
<text x="404" y="442.4" font-family='"Liberation Sans", Arial, sans-serif' font-size="16" fill="#1a1a1a" text-anchor="middle">4</text>
<text x="430.8" y="442.4" font-family='"Liberation Sans", Arial, sans-serif' font-size="16" fill="#1a1a1a" text-anchor="middle">5</text>
<text x="457.6" y="442.4" font-family='"Liberation Sans", Arial, sans-serif' font-size="16" fill="#1a1a1a" text-anchor="middle">6</text>
<text x="484.4" y="442.4" font-family='"Liberation Sans", Arial, sans-serif' font-size="16" fill="#1a1a1a" text-anchor="middle">7</text>
<text x="511.2" y="442.4" font-family='"Liberation Sans", Arial, sans-serif' font-size="16" fill="#1a1a1a" text-anchor="middle">8</text>
<text x="538" y="442.4" font-family='"Liberation Sans", Arial, sans-serif' font-size="16" fill="#1a1a1a" text-anchor="middle">9</text>
<text x="564.8" y="442.4" font-family='"Liberation Sans", Arial, sans-serif' font-size="16" fill="#1a1a1a" text-anchor="middle">10</text>
<text x="591.6" y="442.4" font-family='"Liberation Sans", Arial, sans-serif' font-size="16" fill="#1a1a1a" text-anchor="middle">11</text>
<text x="618.4" y="442.4" font-family='"Liberation Sans", Arial, sans-serif' font-size="16" fill="#1a1a1a" text-anchor="middle">12</text>
<text x="470" y="463.7" font-family='"Liberation Sans", Arial, sans-serif' font-size="16.5" fill="#1a1a1a" text-anchor="middle">Waveguide number</text>
<text transform="translate(246.2 357.2) rotate(-90)" font-family='"Liberation Sans", Arial, sans-serif' font-size="16.8" fill="#1a1a1a" text-anchor="middle">Normalized</text>
<text transform="translate(266.6 356.2) rotate(-90)" font-family='"Liberation Sans", Arial, sans-serif' font-size="16.8" fill="#1a1a1a" text-anchor="middle">intensity (a.u.)</text>
<rect x="390.8" y="299.8" width="28" height="13" fill="#ee3a3f"/>
<rect x="390.8" y="316.8" width="28" height="12.5" fill="#1a7fe8"/>
<text x="423.8" y="310.8" font-family='"Liberation Sans", Arial, sans-serif' font-size="13" font-weight="bold" fill="#111">Experiment</text>
<text x="423.8" y="327.3" font-family='"Liberation Sans", Arial, sans-serif' font-size="13" font-weight="bold" fill="#111">Simulation</text>
<rect x="313.5" y="674.96" width="8.5" height="14.04" fill="#ee3a3f"/>
<rect x="324" y="674.96" width="8.5" height="14.04" fill="#1a7fe8"/>
<path d="M317.5 671.84 L317.5 678.2 M316.2 671.84 L318.8 671.84 M316.2 678.2 L318.8 678.2" stroke="#111" stroke-width="1" fill="none"/>
<rect x="340.3" y="686" width="8.5" height="3" fill="#ee3a3f"/>
<rect x="350.8" y="686.96" width="8.5" height="2.04" fill="#1a7fe8"/>
<rect x="367.1" y="658.52" width="8.5" height="30.48" fill="#ee3a3f"/>
<rect x="377.6" y="682.04" width="8.5" height="6.96" fill="#1a7fe8"/>
<path d="M371.5 654.2 L371.5 662.6 M370.2 654.2 L372.8 654.2 M370.2 662.6 L372.8 662.6" stroke="#111" stroke-width="1" fill="none"/>
<rect x="420.7" y="682.52" width="8.5" height="6.48" fill="#ee3a3f"/>
<rect x="431.2" y="683.48" width="8.5" height="5.52" fill="#1a7fe8"/>
<rect x="447.5" y="686" width="8.5" height="3" fill="#ee3a3f"/>
<rect x="458" y="685.4" width="8.5" height="3.6" fill="#1a7fe8"/>
<rect x="474.3" y="687.44" width="8.5" height="1.56" fill="#ee3a3f"/>
<rect x="484.8" y="688.52" width="8.5" height="0.48" fill="#1a7fe8"/>
<rect x="501.1" y="686" width="8.5" height="3" fill="#ee3a3f"/>
<rect x="511.6" y="673.4" width="8.5" height="15.6" fill="#1a7fe8"/>
<path d="M505.5 682.04 L505.5 689 M504.2 682.04 L506.8 682.04 M504.2 689 L506.8 689" stroke="#111" stroke-width="1" fill="none"/>
<rect x="527.9" y="686" width="8.5" height="3" fill="#ee3a3f"/>
<rect x="554.7" y="661.04" width="8.5" height="27.96" fill="#ee3a3f"/>
<rect x="565.2" y="651.8" width="8.5" height="37.2" fill="#1a7fe8"/>
<path d="M558.5 653 L558.5 666.2 M557.2 653 L559.8 653 M557.2 666.2 L559.8 666.2" stroke="#111" stroke-width="1" fill="none"/>
<rect x="581.5" y="682.04" width="8.5" height="6.96" fill="#ee3a3f"/>
<rect x="592" y="680.96" width="8.5" height="8.04" fill="#1a7fe8"/>
<rect x="608.3" y="569" width="8.5" height="120" fill="#ee3a3f"/>
<rect x="618.8" y="569" width="8.5" height="120" fill="#1a7fe8"/>
<rect x="302" y="556.8" width="336.6" height="132.2" fill="none" stroke="#1a1a1a" stroke-width="1.2"/>
<path d="M323 689 L323 692.5 M323 556.8 L323 560.3 M349.8 689 L349.8 692.5 M349.8 556.8 L349.8 560.3 M376.6 689 L376.6 692.5 M376.6 556.8 L376.6 560.3 M403.4 689 L403.4 692.5 M403.4 556.8 L403.4 560.3 M430.2 689 L430.2 692.5 M430.2 556.8 L430.2 560.3 M457 689 L457 692.5 M457 556.8 L457 560.3 M483.8 689 L483.8 692.5 M483.8 556.8 L483.8 560.3 M510.6 689 L510.6 692.5 M510.6 556.8 L510.6 560.3 M537.4 689 L537.4 692.5 M537.4 556.8 L537.4 560.3 M564.2 689 L564.2 692.5 M564.2 556.8 L564.2 560.3 M591 689 L591 692.5 M591 556.8 L591 560.3 M617.8 689 L617.8 692.5 M617.8 556.8 L617.8 560.3 M298.5 689 L302 689 M638.6 689 L635.1 689 M300 659 L302 659 M638.6 659 L636.6 659 M298.5 629 L302 629 M638.6 629 L635.1 629 M300 599 L302 599 M638.6 599 L636.6 599 M298.5 569 L302 569 M638.6 569 L635.1 569" stroke="#1a1a1a" stroke-width="1" fill="none"/>
<text x="297.2" y="694.8" font-family='"Liberation Sans", Arial, sans-serif' font-size="16.5" fill="#1a1a1a" text-anchor="end">0.0</text>
<text x="297.2" y="634.8" font-family='"Liberation Sans", Arial, sans-serif' font-size="16.5" fill="#1a1a1a" text-anchor="end">0.5</text>
<text x="297.2" y="574.8" font-family='"Liberation Sans", Arial, sans-serif' font-size="16.5" fill="#1a1a1a" text-anchor="end">1.0</text>
<text x="323.6" y="708.2" font-family='"Liberation Sans", Arial, sans-serif' font-size="16" fill="#1a1a1a" text-anchor="middle">1</text>
<text x="350.4" y="708.2" font-family='"Liberation Sans", Arial, sans-serif' font-size="16" fill="#1a1a1a" text-anchor="middle">2</text>
<text x="377.2" y="708.2" font-family='"Liberation Sans", Arial, sans-serif' font-size="16" fill="#1a1a1a" text-anchor="middle">3</text>
<text x="404" y="708.2" font-family='"Liberation Sans", Arial, sans-serif' font-size="16" fill="#1a1a1a" text-anchor="middle">4</text>
<text x="430.8" y="708.2" font-family='"Liberation Sans", Arial, sans-serif' font-size="16" fill="#1a1a1a" text-anchor="middle">5</text>
<text x="457.6" y="708.2" font-family='"Liberation Sans", Arial, sans-serif' font-size="16" fill="#1a1a1a" text-anchor="middle">6</text>
<text x="484.4" y="708.2" font-family='"Liberation Sans", Arial, sans-serif' font-size="16" fill="#1a1a1a" text-anchor="middle">7</text>
<text x="511.2" y="708.2" font-family='"Liberation Sans", Arial, sans-serif' font-size="16" fill="#1a1a1a" text-anchor="middle">8</text>
<text x="538" y="708.2" font-family='"Liberation Sans", Arial, sans-serif' font-size="16" fill="#1a1a1a" text-anchor="middle">9</text>
<text x="564.8" y="708.2" font-family='"Liberation Sans", Arial, sans-serif' font-size="16" fill="#1a1a1a" text-anchor="middle">10</text>
<text x="591.6" y="708.2" font-family='"Liberation Sans", Arial, sans-serif' font-size="16" fill="#1a1a1a" text-anchor="middle">11</text>
<text x="618.4" y="708.2" font-family='"Liberation Sans", Arial, sans-serif' font-size="16" fill="#1a1a1a" text-anchor="middle">12</text>
<text x="470" y="729.5" font-family='"Liberation Sans", Arial, sans-serif' font-size="16.5" fill="#1a1a1a" text-anchor="middle">Waveguide number</text>
<text transform="translate(246.2 622.5) rotate(-90)" font-family='"Liberation Sans", Arial, sans-serif' font-size="16.8" fill="#1a1a1a" text-anchor="middle">Normalized</text>
<text transform="translate(266.6 621.5) rotate(-90)" font-family='"Liberation Sans", Arial, sans-serif' font-size="16.8" fill="#1a1a1a" text-anchor="middle">intensity (a.u.)</text>
<rect x="390.8" y="565.9" width="28" height="13" fill="#ee3a3f"/>
<rect x="390.8" y="582.9" width="28" height="12.5" fill="#1a7fe8"/>
<text x="423.8" y="576.9" font-family='"Liberation Sans", Arial, sans-serif' font-size="13" font-weight="bold" fill="#111">Experiment</text>
<text x="423.8" y="593.4" font-family='"Liberation Sans", Arial, sans-serif' font-size="13" font-weight="bold" fill="#111">Simulation</text></svg>
</body></html>
